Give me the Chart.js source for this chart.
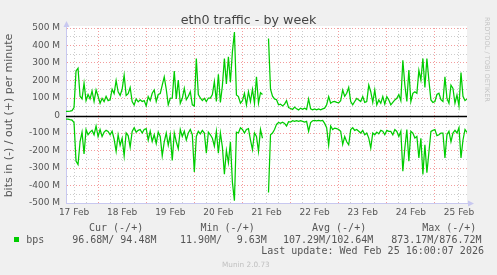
<!DOCTYPE html>
<html>
<head>
<meta charset="utf-8">
<script src="https://cdn.jsdelivr.net/npm/chart.js@4.4.1/dist/chart.umd.min.js"></script>
<style>
  html, body { margin: 0; padding: 0; background: #f0f0f0; }
  #wrap { position: relative; width: 497px; height: 275px; overflow: hidden; }
  #chart { position: absolute; left: 0; top: 0; }
  #title { position: absolute; left: 0; top: 12px; width: 497px; text-align: center;
           font: 12.7px/15px "DejaVu Sans", sans-serif; color: #444; }
  #credit { position: absolute; left: 483px; top: 17px; writing-mode: vertical-rl;
            font: 6.6px/8px "DejaVu Sans", sans-serif; color: #c4c4c4; white-space: pre; }
  #version { position: absolute; left: 222px; top: 260.5px;
             font: 7.3px/8px "DejaVu Sans", sans-serif; color: #c0c0c0; white-space: pre; }
  .leg { position: absolute; white-space: pre; font: 10px/10px "DejaVu Sans Mono", monospace; color: #555; }
  .swatch { position: absolute; width: 5px; height: 5px; background: #00cc00; }
</style>
</head>
<body>
<div id="wrap">
  <canvas id="chart" width="497" height="275"></canvas>
  <div id="title">eth0 traffic - by week</div>
  <div id="credit">RRDTOOL / TOBI OETIKER</div>
  <div id="version">Munin 2.0.73</div>
</div>
<script>
// hours since 17 Feb 00:00, one sample per hour, first sample at 08:00
const startHour = 8;

// out (+), M bits per minute, 08:00 17 Feb .. 16:00 25 Feb
const outBps = [
  23, 23, 25, 28, 45, 255, 270, 110, 95, 185,
  85, 120, 95, 140, 80, 146, 110, 70, 98, 80,
  110, 85, 90, 150, 125, 200, 135, 115, 150, 230,
  115, 125, 160, 80, 60, 95, 78, 90, 80, 85,
  55, 108, 85, 127, 146, 80, 120, 125, 174, 221,
  150, 61, 98, 100, 254, 95, 203, 70, 98, 155,
  90, 110, 136, 61, 55, 326, 120, 100, 85, 98,
  80, 100, 100, 120, 193, 80, 236, 75, 170, 326,
  180, 335, 190, 364, 477, 117, 108, 70, 85, 127,
  61, 136, 80, 150, 70, 221, 70, 130, 120, null,
  null, 440, 150, 110, 95, 90, 61, 65, 55, 65,
  85, 45, 40, 35, 48, 38, 32, 42, 35, 42,
  35, 95, 38, 32, 38, 32, 38, 32, 38, 42,
  61, 108, 70, 78, 80, 75, 72, 85, 146, 110,
  127, 160, 80, 61, 80, 98, 89, 80, 108, 75,
  80, 174, 136, 75, 146, 61, 89, 70, 108, 65,
  108, 89, 61, 75, 89, 98, 120, 85, 316, 174,
  80, 260, 80, 127, 136, 127, 258, 203, 326, 160,
  326, 200, 89, 75, 80, 120, 127, 90, 80, 221,
  98, 70, 174, 155, 70, 117, 55, 245, 110, 85,
  94
];

// in (-), same samples, stored as magnitudes and drawn below zero
const inBps = [
  21, 21, 24, 26, 40, 260, 280, 150, 95, 220,
  80, 110, 95, 85, 110, 60, 120, 80, 120, 95,
  85, 91, 110, 90, 135, 205, 110, 170, 130, 230,
  100, 115, 180, 91, 70, 95, 85, 80, 100, 80,
  75, 140, 90, 148, 110, 160, 95, 120, 231, 150,
  100, 170, 110, 257, 100, 150, 190, 80, 120, 90,
  140, 100, 80, 110, 322, 120, 90, 105, 85, 100,
  216, 95, 110, 130, 175, 90, 215, 100, 180, 335,
  200, 270, 150, 382, 487, 95, 100, 70, 80, 100,
  80, 75, 139, 195, 100, 120, 205, 80, 130, null,
  null, 440, 110, 100, 80, 50, 40, 45, 38, 45,
  60, 35, 38, 30, 34, 30, 34, 30, 34, 38,
  34, 90, 40, 30, 28, 30, 28, 30, 28, 45,
  70, 170, 60, 80, 72, 75, 80, 90, 165, 120,
  150, 167, 80, 70, 85, 80, 90, 100, 85, 110,
  100, 129, 186, 100, 110, 95, 105, 85, 90, 110,
  85, 91, 91, 110, 80, 91, 120, 90, 318, 186,
  80, 261, 90, 100, 129, 120, 242, 130, 337, 167,
  327, 210, 91, 85, 80, 115, 110, 100, 100, 242,
  110, 90, 150, 100, 85, 100, 70, 242, 140, 80,
  97
];

const dayLabels = ['17 Feb', '18 Feb', '19 Feb', '20 Feb', '21 Feb', '22 Feb', '23 Feb', '24 Feb', '25 Feb'];
const yTicks = [500, 450, 400, 350, 300, 250, 200, 150, 100, 50, 0,
  -50, -100, -150, -200, -250, -300, -350, -400, -450, -500];

const legendHead = ['Cur (-/+)', 'Min (-/+)', 'Avg (-/+)', 'Max (-/+)'];
const legendVals = ['96.68M/ 94.48M', '11.90M/', '9.63M', '107.29M/102.64M', '873.17M/876.72M'];
const lastUpdate = 'Last update: Wed Feb 25 16:00:07 2026';

const GREEN = '#00cc00';
const MAJOR = 'rgba(235, 90, 90, 0.6)';
const MINOR = 'rgba(170, 170, 170, 0.6)';
const AXIS = '#c8c8f0';

// legend (html text)
const wrap = document.getElementById('wrap');
function addText(text, left, baseline) {
  const el = document.createElement('div');
  el.className = 'leg';
  el.textContent = text;
  el.style.left = left + 'px';
  el.style.top = (baseline - 8.5) + 'px';
  wrap.appendChild(el);
}
[89, 200.5, 312, 422.2].forEach((x, i) => addText(legendHead[i], x, 231));
const sw = document.createElement('div');
sw.className = 'swatch';
sw.style.left = '14px';
sw.style.top = '237px';
wrap.appendChild(sw);
addText('bps', 26.3, 243);
[72.2, 180, 236.7, 283, 391.2].forEach((x, i) => addText(legendVals[i], x, 243));
addText(lastUpdate, 261.2, 254.6);

const hours = outBps.map((_, i) => startHour + i);

const xTicks = [];
for (let h = 12; h <= 204; h += 6) xTicks.push(h);

const munin = {
  id: 'munin',
  beforeDraw(chart) {
    const {ctx, chartArea: a} = chart;
    ctx.save();
    ctx.fillStyle = '#ffffff';
    ctx.fillRect(a.left, a.top - 2, a.right - a.left, a.bottom - a.top + 2);
    ctx.restore();
  },
  beforeDatasetsDraw(chart) {
    const {ctx, chartArea: a, scales} = chart;
    const y0 = Math.round(scales.y.getPixelForValue(0)) + 0.5;
    ctx.save();
    ctx.strokeStyle = '#000000';
    ctx.lineWidth = 1.3;
    ctx.beginPath();
    ctx.moveTo(a.left, y0);
    ctx.lineTo(a.right, y0);
    ctx.stroke();
    ctx.restore();
  },
  afterDraw(chart) {
    const {ctx, chartArea: a} = chart;
    const x = a.left + 0.5, y = a.bottom + 0.5;
    ctx.save();
    ctx.fillStyle = AXIS;
    ctx.strokeStyle = AXIS;
    ctx.lineWidth = 1;
    ctx.beginPath();
    ctx.moveTo(x, a.top);
    ctx.lineTo(x, a.top - 2);
    ctx.moveTo(a.right, y);
    ctx.lineTo(a.right + 2, y);
    ctx.stroke();
    ctx.beginPath();
    ctx.moveTo(x - 3, a.top - 1);
    ctx.lineTo(x + 3, a.top - 1);
    ctx.lineTo(x, a.top - 7);
    ctx.closePath();
    ctx.fill();
    ctx.beginPath();
    ctx.moveTo(a.right + 1, y - 3);
    ctx.lineTo(a.right + 1, y + 3);
    ctx.lineTo(a.right + 7, y);
    ctx.closePath();
    ctx.fill();
    ctx.restore();
  }
};

Chart.defaults.font.family = '"DejaVu Sans", sans-serif';

new Chart(document.getElementById('chart'), {
  type: 'line',
  data: {
    datasets: [
      {
        label: 'out',
        data: hours.map((h, i) => ({x: h, y: outBps[i]})),
        borderColor: GREEN,
        borderWidth: 1.25,
        pointRadius: 0,
        tension: 0,
        fill: false,
        spanGaps: false
      },
      {
        label: 'in',
        data: hours.map((h, i) => ({x: h, y: inBps[i] == null ? null : -inBps[i]})),
        borderColor: GREEN,
        borderWidth: 1.25,
        pointRadius: 0,
        tension: 0,
        fill: false,
        spanGaps: false
      }
    ]
  },
  options: {
    responsive: false,
    animation: false,
    events: [],
    layout: { padding: { top: 28, right: 30, bottom: 52, left: 0 } },
    plugins: {
      legend: { display: false },
      tooltip: { enabled: false },
      title: { display: false }
    },
    scales: {
      x: {
        type: 'linear',
        min: 8,
        max: 208,
        afterBuildTicks: (scale) => { scale.ticks = xTicks.map(v => ({value: v})); },
        afterFit: (scale) => { scale.height = 20; },
        ticks: {
          autoSkip: false,
          maxRotation: 0,
          padding: 4,
          color: '#555',
          font: { size: 9 },
          callback: (v) => ((v - 12) % 24 === 0 ? dayLabels[(v - 12) / 24] : '')
        },
        grid: {
          drawTicks: false,
          lineWidth: 1,
          color: (c) => (c.tick && c.tick.value % 24 === 0 ? MAJOR : MINOR)
        },
        border: { display: true, color: AXIS, width: 1, dash: [1, 2] }
      },
      y: {
        min: -500,
        max: 500,
        afterBuildTicks: (scale) => { scale.ticks = yTicks.map(v => ({value: v})); },
        afterFit: (scale) => { scale.width = 66; },
        ticks: {
          autoSkip: false,
          padding: 6,
          color: '#555',
          font: { size: 9 },
          callback: (v) => (v === 0 ? '0' : (v % 100 === 0 ? v + ' M' : ''))
        },
        grid: {
          drawTicks: false,
          lineWidth: 1,
          color: (c) => {
            if (!c.tick) return MINOR;
            if (c.tick.value === 0) return 'rgba(0,0,0,0)';
            return c.tick.value % 100 === 0 ? MAJOR : MINOR;
          }
        },
        border: { display: true, color: AXIS, width: 1, dash: [1, 2] },
        title: {
          display: true,
          text: 'bits in (-) / out (+) per minute',
          color: '#555',
          font: { size: 11 },
          padding: { top: 3, bottom: 0 }
        }
      }
    }
  },
  plugins: [munin]
});
</script>
</body>
</html>
